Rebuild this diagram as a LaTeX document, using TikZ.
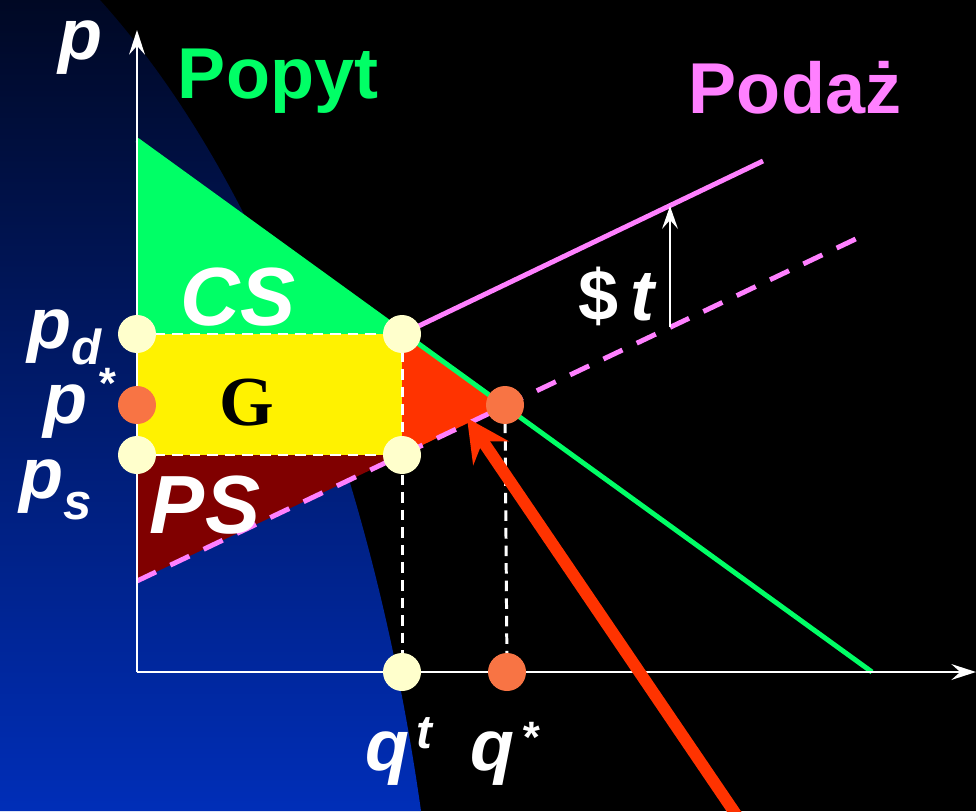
\documentclass[tikz,border=0pt]{standalone}
\usepackage{fontspec}
\setmainfont{Liberation Sans}
\newfontfamily\gfont{Liberation Serif}
\usetikzlibrary{arrows.meta}

\definecolor{cream}{RGB}{255,255,204}
\definecolor{eqorange}{RGB}{248,116,68}
\definecolor{csgreen}{RGB}{0,255,102}
\definecolor{psred}{RGB}{128,0,0}
\definecolor{dwlred}{RGB}{255,51,0}
\definecolor{supplypink}{RGB}{255,128,255}
\definecolor{navytop}{RGB}{0,8,36}
\definecolor{navybot}{RGB}{0,46,184}

\begin{document}
\begin{tikzpicture}[x=0.02cm,y=-0.02cm,
  dot/.style={circle,fill=cream,minimum size=0.76cm,inner sep=0pt},
  eqdot/.style={dot,fill=eqorange},
  guide/.style={white,line width=1.7pt,dash pattern=on 6pt off 4pt},
  axis/.style={white,line width=1.4pt,-{Stealth[length=14pt,width=9pt,inset=5pt]}},
  curve/.style={line width=2.8pt},
  lbl/.style={text=white,inner sep=0pt,anchor=base west,font=\bfseries\itshape\fontsize{41}{41}\selectfont},
]
\useasboundingbox (0,0) rectangle (976,811);
\fill[black] (0,0) rectangle (976,811);
\shade[top color=navytop,bottom color=navybot] (0,0) -- (100,0) .. controls (280,200) and (380,520) .. (421,811) -- (0,811) -- cycle;

% points of the market
\coordinate (O) at (137,672);
\coordinate (ytip) at (137,30);
\coordinate (xtip) at (976,672);
\coordinate (dTop) at (137,140);
\coordinate (dEnd) at (872,672);
\coordinate (sLow) at (137,581);
\coordinate (sEnd) at (862,236);
\coordinate (tEnd) at (763,161);
\coordinate (pdL) at (137,334);
\coordinate (pdR) at (402,334);
\coordinate (psL) at (137,455);
\coordinate (psR) at (402,455);
\coordinate (pstL) at (137,405);
\coordinate (eq) at (505,405);
\coordinate (qt) at (402,672);
\coordinate (qst) at (507,672);
\coordinate (taxLow) at (670,327);
\coordinate (taxHigh) at (670,206);
\coordinate (arrTail) at (737,816);
\coordinate (arrTip) at (467,418);

% areas
\fill[csgreen] (dTop) -- (pdR) -- (pdL) -- cycle;
\fill[yellow] (pdL) rectangle (psR);
\fill[psred] (psL) -- (psR) -- (sLow) -- cycle;
\fill[dwlred] (pdR) -- (eq) -- (psR) -- cycle;

% curves
\draw[curve,csgreen] (dTop) -- (dEnd);
\draw[curve,supplypink,dash pattern=on 12pt off 9pt] (sLow) -- (sEnd);
\draw[curve,supplypink] (pdR) -- (tEnd);

\draw[guide] (pdL) -- (pdR);
\draw[guide] (psL) -- (psR);
\draw[guide] (pdR) -- (qt);
\draw[guide] (eq) -- (qst);

\draw[axis] (O) -- (ytip);
\draw[axis] (O) -- (xtip);
\draw[white,line width=1.4pt,-{Stealth[length=13pt,width=9pt,inset=5pt]}] (taxLow) -- (taxHigh);

% dots
\node[dot] (pdLdot) at (pdL) {};
\node[dot] (pdRdot) at (pdR) {};
\node[dot] (psLdot) at (psL) {};
\node[dot] (psRdot) at (psR) {};
\node[eqdot] (pstLdot) at (pstL) {};
\node[eqdot] (eqdot) at (eq) {};
\node[dot] (qtdot) at (qt) {};
\node[eqdot] (qstdot) at (qst) {};

% labels
\node[lbl] (plab) at (58,60) {p};
\node[lbl,anchor=base,text=csgreen,font=\bfseries\fontsize{41}{41}\selectfont] (popyt) at (278,98) {Popyt};
\node[lbl,anchor=base,text=supplypink,font=\bfseries\fontsize{41}{41}\selectfont] (podaz) at (795,113) {Podaż};
\node[lbl,anchor=base,font=\bfseries\itshape\fontsize{47}{47}\selectfont] (cslab) at (238,325) {CS};
\node[lbl,anchor=base,font=\bfseries\itshape\fontsize{47}{47}\selectfont] (pslab) at (205,533) {PS};
\node[lbl,anchor=base,text=black,font=\gfont\bfseries\fontsize{40}{40}\selectfont] (glab) at (247,425) {G};
\node[lbl,anchor=base,font=\bfseries\fontsize{41}{41}\selectfont] (taxlab) at (618,320) {\$\,\textit{t}};
\node[lbl] (pdlab) at (27,348) {p\raisebox{-9.5pt}{\fontsize{28}{28}\selectfont d}};
\node[lbl] (pstlab) at (43,423) {p\kern6pt\raisebox{14pt}{\fontsize{25}{25}\selectfont *}};
\node[lbl] (pslab2) at (19,498) {p\raisebox{-12pt}{\fontsize{29}{29}\selectfont s}};
\node[lbl] (qtlab) at (365,770) {q\kern4pt\raisebox{12.5pt}{\fontsize{27}{27}\selectfont t}};
\node[lbl] (qstlab) at (470,770) {q\kern4pt\raisebox{10pt}{\fontsize{25}{25}\selectfont *}};

% pointer to the loss
\draw[dwlred,line width=6.8pt,-{Stealth[length=24pt,width=24pt,inset=8pt]}] (arrTail) -- (arrTip);
\end{tikzpicture}
\end{document}
